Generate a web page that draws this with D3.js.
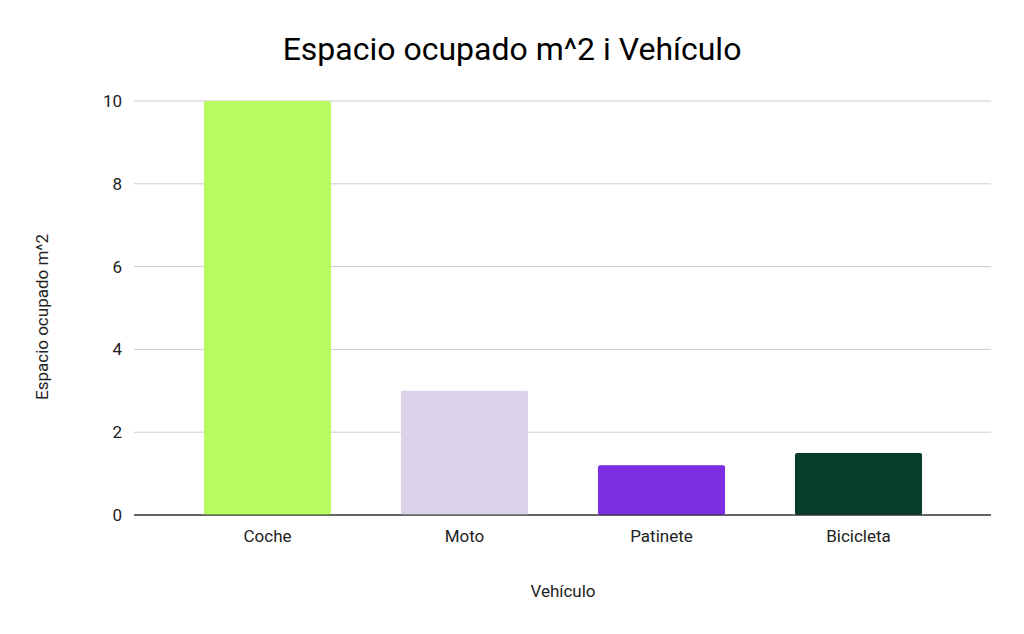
<!DOCTYPE html>
<html><head><meta charset="utf-8">
<script src="https://cdn.jsdelivr.net/npm/d3@7"></script>
<style>body{margin:0;background:#fff;font-family:Roboto,Arial,sans-serif}</style>
</head><body><svg id="c" width="1024" height="634"></svg>
<script>
const categories = ["Coche","Moto","Patinete","Bicicleta"];
const values = [10, 3, 1.2, 1.5];
const colors = ["#b7fb63","#d9d2e9","#7b2de2","#073b2a"];
const yTicks = [0,2,4,6,8,10];

const svg = d3.select("#c");
const x = d3.scaleBand().domain(categories).range([169,957]).paddingInner(0.355).paddingOuter(0.1775);
const y = d3.scaleLinear().domain([0,10]).range([515,101]);

svg.append("text").attr("x",512).attr("y",60).attr("text-anchor","middle")
  .attr("font-size",32).attr("fill","#000").text("Espacio ocupado m^2 i Vehículo");

svg.append("g").selectAll("line").data(yTicks).join("line")
  .attr("x1",134).attr("x2",991).attr("y1",d=>y(d)).attr("y2",d=>y(d))
  .attr("stroke",d=>d===0?"#333":"#ccc").attr("stroke-width",1);

svg.append("g").selectAll("text").data(yTicks).join("text")
  .attr("x",122).attr("y",d=>y(d)+6).attr("text-anchor","end")
  .attr("font-size",17).attr("fill","#222").text(d=>d);

svg.append("g").selectAll("rect").data(categories).join("rect")
  .attr("x",d=>x(d)).attr("width",x.bandwidth())
  .attr("y",(d,i)=>y(values[i])).attr("height",(d,i)=>y(0)-y(values[i]))
  .attr("fill",(d,i)=>colors[i]).attr("rx",2);

svg.append("line").attr("x1",134).attr("x2",991).attr("y1",y(0)).attr("y2",y(0)).attr("stroke","#333");

svg.append("g").selectAll("text").data(categories).join("text")
  .attr("x",d=>x(d)+x.bandwidth()/2).attr("y",542).attr("text-anchor","middle")
  .attr("font-size",17).attr("fill","#222").text(d=>d);

svg.append("text").attr("x",563).attr("y",597).attr("text-anchor","middle")
  .attr("font-size",17).attr("fill","#222").text("Vehículo");
svg.append("text").attr("transform","translate(48,317) rotate(-90)").attr("text-anchor","middle")
  .attr("font-size",17).attr("fill","#222").text("Espacio ocupado m^2");
</script></body></html>
